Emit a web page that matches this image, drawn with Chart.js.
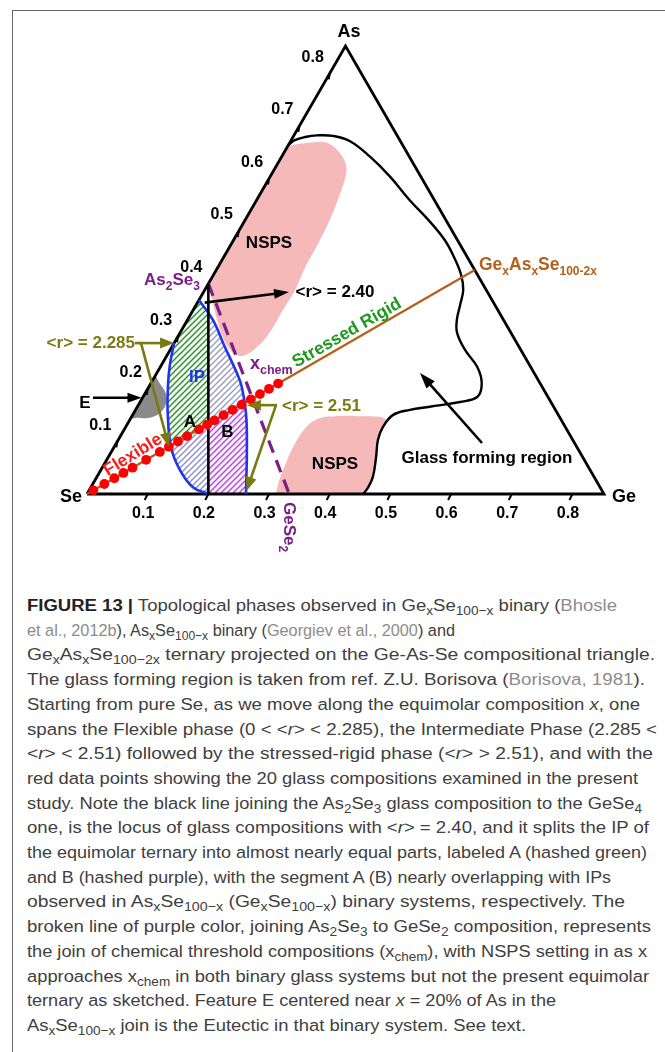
<!DOCTYPE html>
<html>
<head>
<meta charset="utf-8">
<script src="https://cdn.jsdelivr.net/npm/chart.js@4.4.1/dist/chart.umd.min.js"></script>
<style>
  html, body { margin: 0; padding: 0; background: #fff; }
  body { width: 665px; height: 1052px; overflow: hidden; position: relative; }
  #frame { position: absolute; left: 12px; top: 10px; width: 700px; height: 1100px;
           border-left: 1.5px solid #666; border-top: 1.5px solid #666; }
  #plot { position: absolute; left: 0; top: 0; }
  #caption { position: absolute; left: 27px; top: 593px; color: #404040;
             font-family: "Liberation Sans", Arial, sans-serif;
             font-size: 17.4px; line-height: 24.7px; white-space: nowrap; }
  #caption .ln { display: block; width: max-content; transform-origin: 0 50%; }
  #caption b { font-weight: 700; color: #222; }
  #caption .ref { color: #8c8c8c; }
  #caption sub { font-size: 0.74em; vertical-align: -0.28em; line-height: 0; }
</style>
</head>
<body>
<div id="frame"></div>
<canvas id="plot" width="665" height="580"></canvas>
<div id="caption">
<span class="ln"><b>FIGURE 13 |</b> Topological phases observed in Ge<sub>x</sub>Se<sub>100−x</sub> binary (<span class="ref">Bhosle</span></span>
<span class="ln"><span class="ref">et al., 2012b</span>), As<sub>x</sub>Se<sub>100−x</sub> binary (<span class="ref">Georgiev et al., 2000</span>) and</span>
<span class="ln">Ge<sub>x</sub>As<sub>x</sub>Se<sub>100−2x</sub> ternary projected on the Ge-As-Se compositional triangle.</span>
<span class="ln">The glass forming region is taken from ref. Z.U. Borisova (<span class="ref">Borisova, 1981</span>).</span>
<span class="ln">Starting from pure Se, as we move along the equimolar composition <i>x</i>, one</span>
<span class="ln">spans the Flexible phase (0 &lt; &lt;<i>r</i>&gt; &lt; 2.285), the Intermediate Phase (2.285 &lt;</span>
<span class="ln">&lt;<i>r</i>&gt; &lt; 2.51) followed by the stressed-rigid phase (&lt;<i>r</i>&gt; &gt; 2.51), and with the</span>
<span class="ln">red data points showing the 20 glass compositions examined in the present</span>
<span class="ln">study. Note the black line joining the As<sub>2</sub>Se<sub>3</sub> glass composition to the GeSe<sub>4</sub></span>
<span class="ln">one, is the locus of glass compositions with &lt;<i>r</i>&gt; = 2.40, and it splits the IP of</span>
<span class="ln">the equimolar ternary into almost nearly equal parts, labeled A (hashed green)</span>
<span class="ln">and B (hashed purple), with the segment A (B) nearly overlapping with IPs</span>
<span class="ln">observed in As<sub>x</sub>Se<sub>100−x</sub> (Ge<sub>x</sub>Se<sub>100−x</sub>) binary systems, respectively. The</span>
<span class="ln">broken line of purple color, joining As<sub>2</sub>Se<sub>3</sub> to GeSe<sub>2</sub> composition, represents</span>
<span class="ln">the join of chemical threshold compositions (x<sub>chem</sub>), with NSPS setting in as x</span>
<span class="ln">approaches x<sub>chem</sub> in both binary glass systems but not the present equimolar</span>
<span class="ln">ternary as sketched. Feature E centered near <i>x</i> = 20% of As in the</span>
<span class="ln">As<sub>x</sub>Se<sub>100−x</sub> join is the Eutectic in that binary system. See text.</span>
</div>
<script>
// Ternary coordinates: every point is [Ge %, As %], Se is the remainder.
// The drawn triangle runs to 85.2 % on each side.
const SIDE = 85.2;
const SIN60 = Math.sqrt(3) / 2;

const triangle = [[0, 0], [0, SIDE], [SIDE, 0], [0, 0]];
const axisTicks = [0.1, 0.2, 0.3, 0.4, 0.5, 0.6, 0.7, 0.8];

// Ge_x As_x Se_100-2x glasses studied (x in %)
const equimolarX = [0.7, 1.9, 3, 4, 5, 6.5, 8, 9, 10, 11, 12.3, 13.2, 14, 15, 16, 17, 18, 19, 20, 21];
// equimolar join, from Se to the middle of the As-Ge side
const equimolarLine = [[0, 0], [SIDE / 2, SIDE / 2]];

// joins
const as2se3 = [0, 40];
const gese4 = [20, 0];
const gese2 = [33.33, 0];

// boundary of the glass forming region
const glassBoundary = [
  [0, 66.4], [0.6, 67.3], [2.0, 67.9], [3.8, 68.2], [6.5, 68.1], [9.8, 67.1], [14.5, 64.2],
  [19.7, 60.4], [25.2, 55.9], [30.6, 51.8], [34.8, 48.3], [38.1, 44.9], [40.8, 41.7],
  [42.6, 38.8], [43.5, 36.0], [44.4, 33.1], [45.7, 30.6], [48.6, 27.4], [52.2, 24.2],
  [54.5, 21.1], [55.1, 18.5], [52.7, 17.5], [48.2, 16.6], [45.2, 16.0], [42.9, 15.0],
  [42.4, 12.75], [42.8, 10.3], [44.2, 6.85], [45.5, 3.2], [45.7, 1.1], [45.5, 0]
];

// intermediate phase window (lens)
const ipRight = [[0, 36.9], [4.2, 33.1], [8.7, 28.0], [13.2, 23.0], [15.3, 20.4], [18.5, 15.4], [21.9, 8.9], [26.2, 0]];
const ipLeft = [[0, 28.7], [1.4, 24.5], [3.0, 20.7], [5.6, 15.4], [9.4, 8.9], [13.0, 4.6], [16.8, 1.3], [20, 0]];

// nanoscale phase separation regions
const nspsUpper = [
  [0, 66.2], [1.8, 66.6], [4.1, 66.9], [6.15, 66.8], [8.7, 65.3], [10.9, 63.2], [12.1, 61.3],
  [13.0, 57.9], [13.9, 52.5], [14.3, 47.2], [14.4, 43.0], [14.9, 38.8], [14.8, 35.0],
  [14.7, 30.3], [13.95, 27.8], [13.0, 26.5], [11.8, 26.3], [9.9, 27.4], [7.0, 30.4],
  [3.8, 34.6], [1.4, 38.1], [0, 40]
];
const nspsLower = [
  [31.1, 0], [30.3, 3.0], [29.9, 5.5], [29.5, 8.9], [29.7, 12.4], [30.9, 14.3], [33.5, 14.8],
  [37.6, 14.8], [41.0, 14.65], [42.2, 14.1], [42.4, 12.75], [42.8, 10.3], [44.2, 6.85],
  [45.5, 3.2], [45.7, 1.1], [45.5, 0]
];
// eutectic E on the As-Se join
const eutectic = [[0, 22.6], [1.2, 21.3], [3.2, 19.4], [4.3, 17.6], [4.5, 16.0], [3.9, 14.9], [2.4, 14.4], [1.0, 14.5], [0, 14.3]];

const toXY = ([g, a]) => ({ x: g + a / 2, y: a * SIN60 });

const COL = {
  olive: '#7a7a12', purple: '#7b1f88', green: '#1d9a1d', red: '#ff1a1a', blue: '#1f35e6',
  brown: '#b5601b', pink: '#f5b9b9'
};

function hatch(color, bg) {
  const s = 6, c = document.createElement('canvas');
  c.width = s; c.height = s;
  const x = c.getContext('2d');
  x.fillStyle = bg; x.fillRect(0, 0, s, s);
  x.strokeStyle = color; x.lineWidth = 1.4;
  x.beginPath();
  x.moveTo(-1, s + 1); x.lineTo(s + 1, -1);
  x.moveTo(-1, 1); x.lineTo(1, -1);
  x.moveTo(s - 1, s + 1); x.lineTo(s + 1, s - 1);
  x.stroke();
  return x.createPattern(c, 'repeat');
}

// spline through pixel points, same control rule as Chart.js line tension
function trace(ctx, pts, tension, move) {
  const n = pts.length;
  if (move) ctx.moveTo(pts[0][0], pts[0][1]); else ctx.lineTo(pts[0][0], pts[0][1]);
  const cp = pts.map((p, i) => {
    const pr = pts[Math.max(i - 1, 0)], nx = pts[Math.min(i + 1, n - 1)];
    const d01 = Math.hypot(p[0] - pr[0], p[1] - pr[1]);
    const d12 = Math.hypot(nx[0] - p[0], nx[1] - p[1]);
    const tot = d01 + d12 || 1;
    const fa = tension * d01 / tot, fb = tension * d12 / tot;
    return { p: [p[0] - fa * (nx[0] - pr[0]), p[1] - fa * (nx[1] - pr[1])],
             n: [p[0] + fb * (nx[0] - pr[0]), p[1] + fb * (nx[1] - pr[1])] };
  });
  for (let i = 0; i < n - 1; i++) {
    ctx.bezierCurveTo(cp[i].n[0], cp[i].n[1], cp[i + 1].p[0], cp[i + 1].p[1], pts[i + 1][0], pts[i + 1][1]);
  }
}

function arrow(ctx, x1, y1, x2, y2, color, w, hl, hw) {
  const ang = Math.atan2(y2 - y1, x2 - x1);
  ctx.save();
  ctx.strokeStyle = color; ctx.fillStyle = color; ctx.lineWidth = w; ctx.lineCap = 'butt';
  ctx.beginPath();
  ctx.moveTo(x1, y1);
  ctx.lineTo(x2 - Math.cos(ang) * hl * 0.8, y2 - Math.sin(ang) * hl * 0.8);
  ctx.stroke();
  ctx.translate(x2, y2); ctx.rotate(ang);
  ctx.beginPath();
  ctx.moveTo(0, 0); ctx.lineTo(-hl, -hw / 2); ctx.lineTo(-hl, hw / 2); ctx.closePath();
  ctx.fill();
  ctx.restore();
}

// text made of [string, isSubscript] runs
function runs(ctx, parts, x, y, size, subSize, color, align) {
  ctx.save();
  ctx.fillStyle = color; ctx.textBaseline = 'alphabetic'; ctx.textAlign = 'left';
  let total = 0;
  for (const [t, sub] of parts) { ctx.font = `bold ${sub ? subSize : size}px "Liberation Sans", Arial, sans-serif`; total += ctx.measureText(t).width; }
  let cx = align === 'center' ? x - total / 2 : align === 'right' ? x - total : x;
  for (const [t, sub] of parts) {
    ctx.font = `bold ${sub ? subSize : size}px "Liberation Sans", Arial, sans-serif`;
    ctx.fillText(t, cx, sub ? y + size * 0.28 : y);
    cx += ctx.measureText(t).width;
  }
  ctx.restore();
}

function label(ctx, text, x, y, size, color, rot) {
  ctx.save();
  ctx.translate(x, y);
  if (rot) ctx.rotate(rot);
  ctx.font = `bold ${size}px "Liberation Sans", Arial, sans-serif`;
  ctx.fillStyle = color; ctx.textAlign = 'center'; ctx.textBaseline = 'middle';
  ctx.fillText(text, 0, 0);
  ctx.restore();
}

const ternaryArt = {
  id: 'ternaryArt',
  beforeDatasetsDraw(chart) {
    const { ctx } = chart;
    const sx = chart.scales.x, sy = chart.scales.y;
    const P = (c) => { const q = toXY(c); return [sx.getPixelForValue(q.x), sy.getPixelForValue(q.y)]; };
    ctx.save();
    // everything below stays inside the triangle
    ctx.beginPath();
    triangle.forEach((c, i) => { const p = P(c); i ? ctx.lineTo(p[0], p[1]) : ctx.moveTo(p[0], p[1]); });
    ctx.closePath();
    ctx.clip();

    // NSPS regions
    ctx.fillStyle = COL.pink;
    for (const reg of [nspsUpper, nspsLower]) {
      ctx.beginPath(); trace(ctx, reg.map(P), 0.4, true); ctx.closePath(); ctx.fill();
    }
    // eutectic E
    ctx.fillStyle = '#8a8a8a';
    ctx.beginPath(); trace(ctx, eutectic.map(P), 0.4, true); ctx.closePath(); ctx.fill();

    // IP lens, split by the <r> = 2.40 join and the equimolar line
    ctx.save();
    ctx.beginPath();
    trace(ctx, ipRight.map(P), 0.4, true);
    trace(ctx, ipLeft.slice().reverse().map(P), 0.4, false);
    ctx.closePath();
    ctx.clip();
    const vx = P(gese4)[0];
    const o0 = P(equimolarLine[0]), o1 = P(equimolarLine[1]);
    const oy = (x) => o0[1] + (x - o0[0]) * (o1[1] - o0[1]) / (o1[0] - o0[0]);
    const W = chart.width, H = chart.height;
    const parts = [
      [[[0, 0], [vx, 0], [vx, oy(vx)], [0, oy(0)]], hatch('#2f8f2f', '#f4faf4')],
      [[[0, oy(0)], [vx, oy(vx)], [vx, H], [0, H]], hatch('#8c8cd2', '#ffffff')],
      [[[vx, 0], [W, 0], [W, oy(W)], [vx, oy(vx)]], hatch('#9a9ac4', '#ffffff')],
      [[[vx, oy(vx)], [W, oy(W)], [W, H], [vx, H]], hatch('#b447dc', '#fbf2ff')]
    ];
    for (const [poly, pat] of parts) {
      ctx.beginPath();
      poly.forEach((p, i) => i ? ctx.lineTo(p[0], p[1]) : ctx.moveTo(p[0], p[1]));
      ctx.closePath();
      ctx.fillStyle = pat; ctx.fill();
    }
    ctx.restore();
    ctx.restore();
  },
  afterDatasetsDraw(chart) {
    const { ctx } = chart;
    const sx = chart.scales.x, sy = chart.scales.y;
    const P = (c) => { const q = toXY(c); return [sx.getPixelForValue(q.x), sy.getPixelForValue(q.y)]; };
    ctx.save();
    // axis ticks and labels
    ctx.strokeStyle = '#000'; ctx.lineWidth = 2;
    for (const t of axisTicks) {
      const b = P([t * 100, 0]);
      ctx.beginPath(); ctx.moveTo(b[0], b[1]); ctx.lineTo(b[0] - 3, b[1] + 6); ctx.stroke();
      label(ctx, t.toFixed(1), b[0] - 4.5, b[1] + 20, 16, '#000');
      const l = P([0, t * 100]);
      ctx.beginPath(); ctx.moveTo(l[0], l[1]); ctx.lineTo(l[0] - 1, l[1] + 6); ctx.stroke();
      label(ctx, t.toFixed(1), l[0] - 17, l[1] - 16, 16, '#000');
    }
    // vertices
    const vAs = P([0, SIDE]), vSe = P([0, 0]), vGe = P([SIDE, 0]);
    label(ctx, 'As', vAs[0] + 3.5, vAs[1] - 14, 18, '#000');
    label(ctx, 'Se', vSe[0] - 16, vSe[1] + 3, 18, '#000');
    label(ctx, 'Ge', vGe[0] + 20, vGe[1] + 3, 18, '#000');

    // region names
    label(ctx, 'NSPS', 269, 243, 17, '#000');
    label(ctx, 'NSPS', 335, 464, 17, '#000');
    label(ctx, 'Glass forming region', 487, 458, 17, '#000');
    label(ctx, 'IP', 197, 377, 17, COL.blue);
    label(ctx, 'A', 190, 422, 17, '#000');
    label(ctx, 'B', 227.5, 432, 17, '#000');
    label(ctx, 'E', 85, 403, 17, '#000');
    label(ctx, 'Stressed Rigid', 347, 333, 17.5, COL.green, -Math.PI / 6);
    label(ctx, 'Flexible', 133, 455, 17.5, COL.red, -Math.PI / 6 - 0.03);

    runs(ctx, [['As', 0], ['2', 1], ['Se', 0], ['3', 1]], 144, 285, 17, 12, COL.purple, 'left');
    runs(ctx, [['x', 0], ['chem', 1]], 250, 369, 18, 12.5, COL.purple, 'left');
    runs(ctx, [['Ge', 0], ['x', 1], ['As', 0], ['x', 1], ['Se', 0], ['100-2x', 1]], 479, 270, 17.5, 12, COL.brown, 'left');
    ctx.save();
    ctx.translate(P(gese2)[0] + 1, P(gese2)[1] + 8);
    ctx.rotate(Math.PI / 2);
    runs(ctx, [['GeSe', 0], ['2', 1]], 0, 6, 17, 12, COL.purple, 'left');
    ctx.restore();

    // <r> = 2.40 marker
    label(ctx, '<r> = 2.40', 335, 292, 17, '#000');
    const j = P([1.2, 36.4]);
    arrow(ctx, j[0], j[1], 289, 292, '#000', 2.6, 15, 10);

    // <r> = 2.285 marker
    ctx.font = 'bold 17px "Liberation Sans", Arial, sans-serif';
    ctx.fillStyle = COL.olive; ctx.textAlign = 'right'; ctx.textBaseline = 'middle';
    ctx.fillText('<r> = 2.285', 135, 343);
    const lEdge = P(ipLeft[0]);
    const l9 = P([9, 9]);
    ctx.strokeStyle = COL.olive; ctx.lineWidth = 2.6;
    ctx.beginPath(); ctx.moveTo(135, lEdge[1]); ctx.lineTo(141, lEdge[1]); ctx.stroke();
    arrow(ctx, 139, lEdge[1], lEdge[0], lEdge[1], COL.olive, 2.6, 14, 11);
    arrow(ctx, 141, lEdge[1], l9[0], l9[1], COL.olive, 2.6, 14, 11);

    // <r> = 2.51 marker
    ctx.fillStyle = COL.olive; ctx.textAlign = 'left';
    ctx.fillText('<r> = 2.51', 282, 406);
    const r17 = P([17.9, 16.9]);
    const rBase = P([26.0, 0.6]);
    arrow(ctx, 277, r17[1], r17[0], r17[1], COL.olive, 2.6, 14, 11);
    arrow(ctx, 276, r17[1], rBase[0], rBase[1], COL.olive, 2.6, 14, 11);

    // eutectic pointer
    const eP = P([0, 18.3]);
    arrow(ctx, 93, eP[1], eP[0] - 1, eP[1], '#000', 2.6, 14, 10);

    // glass forming region pointer
    arrow(ctx, 482, 443, 420, 373, '#000', 2.6, 16, 11);
    ctx.restore();
  }
};

const lineSet = (data, color, width, extra) => Object.assign({
  data: data.map(toXY), showLine: true, borderColor: color, borderWidth: width,
  pointRadius: 0, fill: false, tension: 0, clip: false
}, extra || {});

new Chart(document.getElementById('plot'), {
  type: 'scatter',
  data: {
    datasets: [
      { data: equimolarX.map(x => toXY([x, x])), pointRadius: 4.9, pointBackgroundColor: '#ff0000',
        pointBorderWidth: 0, showLine: false, clip: false },
      lineSet(equimolarLine, COL.brown, 2.3),
      lineSet([as2se3, gese4], '#000', 2.6),
      lineSet([as2se3, gese2], COL.purple, 3.2, { borderDash: [13, 8] }),
      lineSet(ipRight, COL.blue, 2.6, { tension: 0.4 }),
      lineSet(ipLeft, COL.blue, 2.6, { tension: 0.4 }),
      lineSet(glassBoundary, '#000', 2.4, { tension: 0.4 }),
      lineSet(triangle, '#000', 2.8, { borderJoinStyle: 'miter' })
    ]
  },
  options: {
    responsive: false, animation: false, events: [],
    layout: { padding: { left: 87, right: 61, top: 46, bottom: 86 } },
    scales: {
      x: { type: 'linear', min: 0, max: SIDE, display: false },
      y: { type: 'linear', min: 0, max: SIDE * SIN60, display: false }
    },
    plugins: { legend: { display: false }, tooltip: { enabled: false } }
  },
  plugins: [ternaryArt]
});

// caption lines are set to the widths of the printed column
const captionRightEdges = [617, 455, 655, 645, 640, 657, 653, 638, 642, 649, 647, 611, 625, 651, 647, 649, 556, 526];
document.querySelectorAll('#caption .ln').forEach((el, i) => {
  const w = el.getBoundingClientRect().width;
  el.style.transform = `scaleX(${(captionRightEdges[i] - 27) / w})`;
});
</script>
</body>
</html>
